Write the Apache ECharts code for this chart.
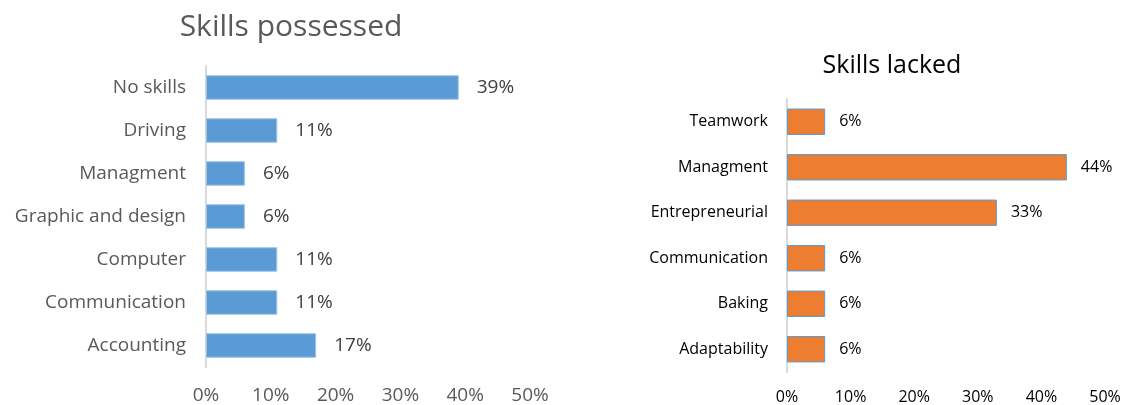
<!DOCTYPE html>
<html>
<head>
<meta charset="utf-8">
<script src="https://cdn.jsdelivr.net/npm/echarts@6/dist/echarts.min.js"></script>
<style>
  html, body { margin: 0; padding: 0; background: #fff; }
  #chart { width: 1126px; height: 405px; }
</style>
</head>
<body>
<div id="chart"></div>
<script>
// Skills possessed (percent of respondents)
const possessedCategories = ['No skills', 'Driving', 'Managment', 'Graphic and design', 'Computer', 'Communication', 'Accounting'];
const possessedValues = [39, 11, 6, 6, 11, 11, 17];

// Skills lacked (percent of respondents)
const lackedCategories = ['Teamwork', 'Managment', 'Entrepreneurial', 'Communication', 'Baking', 'Adaptability'];
const lackedValues = [6, 44, 33, 6, 6, 6];

// Shared percent axis ticks
const axisMax = 50;
const axisStep = 10;

const font = 'Open Sans';

const chart = echarts.init(document.getElementById('chart'), null, { renderer: 'canvas' });

chart.setOption({
  backgroundColor: '#ffffff',
  animation: false,
  title: [
    {
      text: 'Skills possessed',
      left: 286, top: 7, textAlign: 'center',
      textStyle: { fontFamily: font, fontSize: 30, fontWeight: 'normal', color: '#595959' }
    },
    {
      text: 'Skills lacked',
      left: 887, top: 48, textAlign: 'center',
      textStyle: { fontFamily: font, fontSize: 25, fontWeight: 'normal', color: '#000000' }
    }
  ],
  grid: [
    { left: 206, width: 324, top: 66, height: 305, containLabel: false },
    { left: 787, width: 318, top: 99, height: 277, containLabel: false }
  ],
  xAxis: [
    {
      gridIndex: 0, type: 'value', min: 0, max: axisMax, interval: axisStep,
      axisLine: { show: false }, axisTick: { show: false }, splitLine: { show: false },
      axisLabel: { formatter: '{value}%', margin: 19, fontFamily: font, fontSize: 19, color: '#595959' }
    },
    {
      gridIndex: 1, type: 'value', min: 0, max: axisMax, interval: axisStep,
      axisLine: { show: false }, axisTick: { show: false }, splitLine: { show: false },
      axisLabel: { formatter: '{value}%', margin: 17, fontFamily: font, fontSize: 16, color: '#000000' }
    }
  ],
  yAxis: [
    {
      gridIndex: 0, type: 'category', data: possessedCategories, inverse: true,
      axisLine: { show: true, lineStyle: { color: '#d9d9d9', width: 2 } },
      axisTick: { show: false },
      axisLabel: { margin: 20, fontFamily: font, fontSize: 19, color: '#595959' }
    },
    {
      gridIndex: 1, type: 'category', data: lackedCategories, inverse: true,
      axisLine: { show: true, lineStyle: { color: '#d9d9d9', width: 2 } },
      axisTick: { show: false },
      axisLabel: { margin: 19, fontFamily: font, fontSize: 16, color: '#000000' }
    }
  ],
  series: [
    {
      type: 'bar', xAxisIndex: 0, yAxisIndex: 0, data: possessedValues,
      barCategoryGap: '43%',
      itemStyle: { color: '#5b9bd5', borderColor: '#9dc3e6', borderWidth: 1 },
      label: {
        show: true, position: 'right', distance: 18, formatter: '{c}%',
        fontFamily: font, fontSize: 19, color: '#404040'
      }
    },
    {
      type: 'bar', xAxisIndex: 1, yAxisIndex: 1, data: lackedValues,
      barCategoryGap: '42%',
      itemStyle: { color: '#ed7d31', borderColor: '#5b9bd5', borderWidth: 1 },
      label: {
        show: true, position: 'right', distance: 14, formatter: '{c}%',
        fontFamily: font, fontSize: 16, color: '#000000'
      }
    }
  ]
});
</script>
</body>
</html>
